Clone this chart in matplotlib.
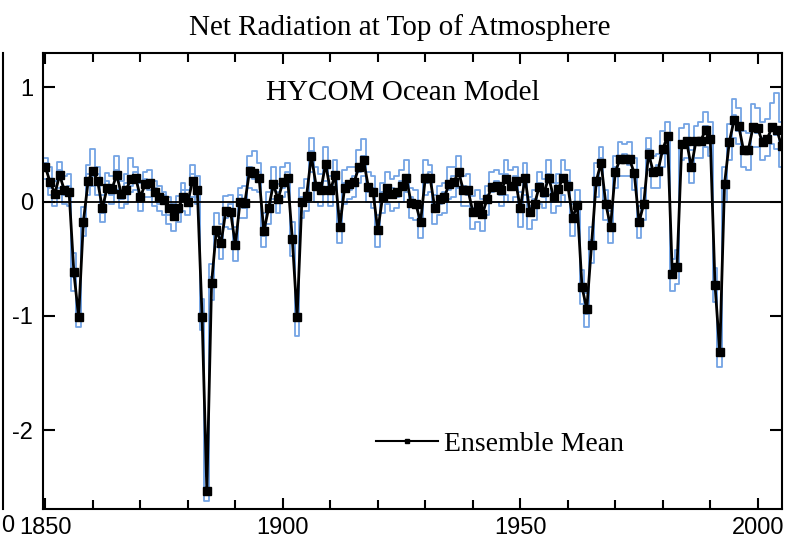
import numpy as np
import matplotlib
matplotlib.use("Agg")
import matplotlib.pyplot as plt
from matplotlib.lines import Line2D
from matplotlib.ticker import MultipleLocator, FixedLocator

plt.rcParams['axes.unicode_minus'] = False

years = np.arange(1850, 2006)

# ensemble mean, one value per year (1850-2005)
ens_mean = [
    0.30, 0.17, 0.07, 0.23, 0.10, 0.08, -0.62, -1.01, -0.18, 0.18,
    0.27, 0.18, -0.06, 0.12, 0.11, 0.23, 0.07, 0.10, 0.20, 0.21,
    0.04, 0.15, 0.16, 0.08, 0.04, 0.01, -0.06, -0.13, -0.06, 0.04,
    0.00, 0.18, 0.10, -1.01, -2.53, -0.71, -0.25, -0.36, -0.08, -0.09,
    -0.38, 0.00, -0.01, 0.27, 0.25, 0.21, -0.26, -0.06, 0.15, 0.02,
    0.17, 0.21, -0.33, -1.01, 0.00, 0.05, 0.40, 0.14, 0.10, 0.33,
    0.10, 0.23, -0.22, 0.12, 0.15, 0.17, 0.30, 0.36, 0.13, 0.08,
    -0.25, 0.04, 0.12, 0.07, 0.08, 0.14, 0.21, -0.01, -0.02, -0.18,
    0.21, 0.21, -0.06, 0.02, 0.04, 0.15, 0.17, 0.26, 0.10, 0.10,
    -0.09, -0.03, -0.11, 0.02, 0.13, 0.14, 0.10, 0.20, 0.14, 0.18,
    -0.06, 0.21, -0.09, -0.02, 0.13, 0.08, 0.21, 0.04, 0.11, 0.21,
    0.14, -0.14, -0.03, -0.75, -0.94, -0.38, 0.18, 0.34, -0.02, -0.22,
    0.26, 0.37, 0.37, 0.37, 0.25, -0.18, -0.02, 0.42, 0.26, 0.27,
    0.46, 0.57, -0.63, -0.57, 0.50, 0.53, 0.30, 0.53, 0.53, 0.63,
    0.55, -0.73, -1.32, 0.15, 0.52, 0.71, 0.66, 0.45, 0.45, 0.65,
    0.64, 0.52, 0.55, 0.65, 0.63, 0.49,
]

# individual ensemble members
member_a = [
    0.38, 0.30, 0.18, 0.35, 0.22, 0.24, -0.45, -0.92, -0.05, 0.32,
    0.46, 0.30, 0.06, 0.25, 0.22, 0.40, 0.18, 0.24, 0.38, 0.30,
    0.16, 0.26, 0.28, 0.18, 0.14, 0.08, 0.04, -0.02, 0.05, 0.16,
    0.10, 0.32, 0.22, -0.85, -2.40, -0.55, -0.10, -0.20, 0.05, 0.06,
    -0.22, 0.12, 0.14, 0.40, 0.44, 0.34, -0.10, 0.08, 0.30, 0.15,
    0.30, 0.34, -0.18, -0.88, 0.12, 0.20, 0.56, 0.30, 0.24, 0.48,
    0.22, 0.36, -0.08, 0.28, 0.30, 0.30, 0.45, 0.55, 0.26, 0.22,
    -0.12, 0.16, 0.26, 0.20, 0.22, 0.28, 0.36, 0.12, 0.10, -0.05,
    0.36, 0.32, 0.06, 0.14, 0.16, 0.30, 0.30, 0.40, 0.22, 0.24,
    0.05, 0.10, 0.02, 0.14, 0.26, 0.28, 0.24, 0.36, 0.28, 0.30,
    0.08, 0.34, 0.04, 0.10, 0.26, 0.20, 0.36, 0.16, 0.24, 0.36,
    0.28, -0.02, 0.10, -0.60, -0.80, -0.22, 0.34, 0.48, 0.10, -0.08,
    0.40, 0.52, 0.50, 0.52, 0.38, -0.04, 0.12, 0.56, 0.40, 0.42,
    0.62, 0.70, -0.50, -0.42, 0.64, 0.68, 0.45, 0.66, 0.70, 0.78,
    0.70, -0.58, -1.18, 0.30, 0.68, 0.90, 0.82, 0.62, 0.60, 0.85,
    0.82, 0.70, 0.72, 0.86, 0.95, 0.70,
]
member_b = [
    0.20, 0.06, -0.04, 0.12, -0.02, -0.04, -0.78, -1.10, -0.30, 0.06,
    0.14, 0.06, -0.18, 0.00, -0.02, 0.10, -0.06, -0.02, 0.08, 0.10,
    -0.08, 0.04, 0.04, -0.04, -0.08, -0.12, -0.20, -0.26, -0.18, -0.08,
    -0.12, 0.04, -0.02, -1.12, -2.62, -0.86, -0.40, -0.50, -0.22, -0.24,
    -0.52, -0.14, -0.14, 0.12, 0.10, 0.08, -0.40, -0.20, 0.02, -0.10,
    0.04, 0.08, -0.48, -1.18, -0.14, -0.08, 0.26, 0.00, -0.04, 0.18,
    -0.04, 0.10, -0.36, -0.02, 0.02, 0.04, 0.16, 0.22, 0.00, -0.06,
    -0.40, -0.10, -0.02, -0.08, -0.06, 0.00, 0.08, -0.14, -0.16, -0.32,
    0.06, 0.08, -0.20, -0.12, -0.10, 0.02, 0.04, 0.12, -0.04, -0.04,
    -0.24, -0.18, -0.26, -0.12, 0.00, 0.00, -0.04, 0.06, 0.00, 0.04,
    -0.22, 0.06, -0.24, -0.16, -0.02, -0.06, 0.06, -0.10, -0.04, 0.06,
    0.00, -0.30, -0.18, -0.90, -1.10, -0.54, 0.04, 0.20, -0.16, -0.36,
    0.12, 0.22, 0.22, 0.22, 0.10, -0.32, -0.16, 0.28, 0.12, 0.12,
    0.30, 0.42, -0.78, -0.72, 0.36, 0.38, 0.16, 0.38, 0.38, 0.48,
    0.40, -0.88, -1.45, 0.00, 0.36, 0.56, 0.50, 0.30, 0.28, 0.48,
    0.48, 0.36, 0.40, 0.50, 0.46, 0.30,
]
member_c = [
    0.34, 0.12, 0.14, 0.28, 0.06, 0.14, -0.66, -0.98, -0.22, 0.24,
    0.22, 0.24, -0.10, 0.18, 0.06, 0.28, 0.02, 0.16, 0.14, 0.26,
    0.00, 0.20, 0.10, 0.12, -0.02, 0.06, -0.12, -0.08, -0.10, 0.10,
    -0.04, 0.24, 0.04, -0.98, -2.50, -0.66, -0.30, -0.30, -0.14, -0.02,
    -0.40, 0.06, -0.06, 0.30, 0.20, 0.26, -0.30, 0.00, 0.10, 0.08,
    0.12, 0.26, -0.36, -0.96, 0.04, 0.00, 0.44, 0.10, 0.16, 0.28,
    0.14, 0.18, -0.26, 0.16, 0.10, 0.22, 0.26, 0.40, 0.08, 0.12,
    -0.28, 0.08, 0.08, 0.12, 0.04, 0.18, 0.16, 0.04, -0.06, -0.14,
    0.16, 0.26, -0.02, -0.02, 0.08, 0.10, 0.22, 0.22, 0.14, 0.06,
    -0.06, -0.08, -0.06, 0.06, 0.08, 0.18, 0.06, 0.24, 0.10, 0.22,
    -0.02, 0.16, -0.04, 0.02, 0.16, 0.04, 0.24, 0.00, 0.16, 0.18,
    0.18, -0.10, -0.08, -0.72, -0.98, -0.34, 0.14, 0.38, -0.06, -0.18,
    0.30, 0.34, 0.42, 0.32, 0.28, -0.14, -0.06, 0.46, 0.22, 0.32,
    0.42, 0.60, -0.60, -0.58, 0.52, 0.50, 0.32, 0.56, 0.50, 0.66,
    0.52, -0.70, -1.30, 0.18, 0.50, 0.76, 0.62, 0.48, 0.42, 0.68,
    0.60, 0.56, 0.52, 0.68, 0.58, 0.52,
]
members = [member_a, member_b, member_c]

xticks = [1850, 1900, 1950, 2000]
yticks = [-2, -1, 0, 1]

fig = plt.figure(figsize=(7.89, 5.39), dpi=100)
ax = fig.add_axes([0.0545, 0.0557, 0.9366, 0.846])

for m in members:
    ax.plot(years, m, color='#74a4e4', lw=1.3, drawstyle='steps-mid', zorder=2)

ax.axhline(0, color='black', lw=1.3, zorder=3)
ax.plot(years, ens_mean, color='black', lw=2.0, marker='s', markersize=5.5, zorder=4)

ax.set_xlim(1849.5, 2005.1)
ax.set_ylim(-2.69, 1.3)
ax.xaxis.set_major_locator(FixedLocator(xticks))
ax.xaxis.set_minor_locator(MultipleLocator(10))
ax.yaxis.set_major_locator(FixedLocator(yticks))
ax.tick_params(which='both', direction='in', top=True, right=True, width=1.5)
ax.tick_params(axis='x', which='major', length=8, pad=6)
ax.tick_params(axis='x', which='minor', length=6.5)
ax.tick_params(axis='y', which='major', length=8.6, pad=7)
for lab in ax.get_xticklabels() + ax.get_yticklabels():
    lab.set_family('Liberation Sans')
    lab.set_fontsize(17)
for s in ax.spines.values():
    s.set_linewidth(1.5)

fig.text(400 / 789, 1 - 28 / 539, 'Net Radiation at Top of Atmosphere',
         family='Liberation Serif', fontsize=21, ha='center', va='center')
ax.text(0.487, 0.912, 'HYCOM Ocean Model', transform=ax.transAxes,
        family='Liberation Serif', fontsize=21, ha='center', va='center')

handle = Line2D([], [], color='black', lw=1.5, marker='s', markersize=3.5)
ax.legend([handle], ['Ensemble Mean'], loc='center left',
          bbox_to_anchor=(0.4506, 0.1425), frameon=False,
          prop={'family': 'Liberation Serif', 'size': 20},
          handlelength=2.25, handletextpad=0.2, borderpad=0, borderaxespad=0)

# edge of the neighbouring panel
fig.add_artist(Line2D([2.5 / 789, 2.5 / 789], [1 - 53 / 539, 1 - 509 / 539],
                      transform=fig.transFigure, color='black', lw=1.5))
fig.text(1 / 789, 1 - 526 / 539, '0', family='Liberation Sans', fontsize=17,
         ha='left', va='center')

fig.savefig('out.png', dpi=100)
